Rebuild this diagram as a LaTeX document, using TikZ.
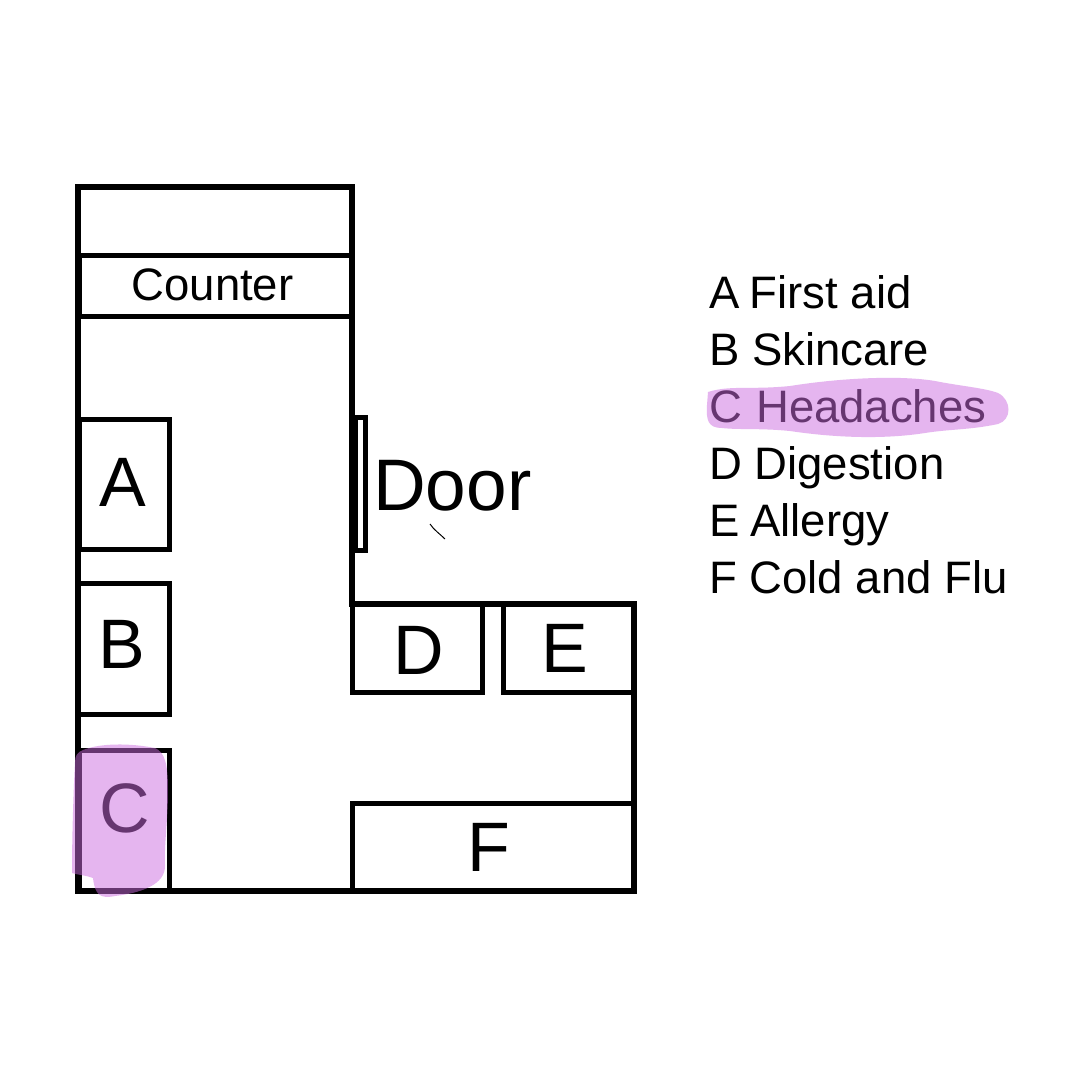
\documentclass[tikz,border=0pt]{standalone}
\usepackage{fontspec}
\setmainfont{Liberation Sans}
\definecolor{hl}{RGB}{204,108,224}
\tikzset{
  wall/.style={draw=black,line width=6pt,line join=miter},
  roombox/.style={draw=black,line width=5pt,inner sep=0pt,outer sep=0pt,text=black},
  big/.style={font=\fontsize{70}{70}\selectfont,inner sep=0pt,text=black},
  mid/.style={font=\fontsize{45.5}{46}\selectfont,inner sep=0pt,text=black},
  legend/.style={font=\fontsize{45.5}{46}\selectfont,anchor=base west,inner sep=0pt,text=black},
  marker/.style={fill=hl,fill opacity=.5,draw=none}
}
\begin{document}
\begin{tikzpicture}[x=1pt,y=-1pt]
\useasboundingbox (0,0) rectangle (1080,1080);
\fill[white] (0,0) rectangle (1080,1080);
\draw[wall] (78,187) -- (351.5,187) -- (351.5,604) -- (634,604) -- (634,891) -- (78,891) -- cycle;
\node[roombox,minimum width=272pt,minimum height=61pt] (counter) at (215,285.5) {};
\node[mid] (counterlabel) at (212.5,285) {Counter};
\node[roombox,minimum width=90pt,minimum height=130pt] (a) at (124,484.5) {};
\node[big] (alabel) at (123,482) {A};
\node[roombox,minimum width=91pt,minimum height=131pt] (b) at (124,649) {};
\node[big] (blabel) at (122,644) {B};
\node[roombox,minimum width=90pt,minimum height=140pt] (c) at (124,820.5) {};
\node[big] (clabel) at (124.5,808) {C};
\node[roombox,minimum width=130pt,minimum height=88pt] (d) at (417.5,648.5) {};
\node[big] (dlabel) at (418.5,650) {D};
\node[roombox,minimum width=130pt,minimum height=88pt] (e) at (568.5,648.5) {};
\node[big] (elabel) at (564.5,648.5) {E};
\node[roombox,minimum width=281pt,minimum height=87pt] (f) at (493,847) {};
\node[big] (flabel) at (488.5,847) {F};
\node[roombox,minimum width=10pt,minimum height=133pt] (door) at (360,484) {};
\node[font=\fontsize{73}{73}\selectfont,anchor=base west,inner sep=0pt] (doorlabel) at (373,510) {Door};
\coordinate (tickA) at (430,524);
\coordinate (tickB) at (445,539);
\draw[line width=1pt] (tickA) .. controls (434,530) and (440,534) .. (tickB);
\node[legend] (l1) at (709,308) {A\kern-2.5pt\ First aid};
\node[legend] (l2) at (709,365) {B Skincare};
\node[legend] (l3) at (709,422) {C\kern1.5pt\ Headaches};
\node[legend] (l4) at (709,479) {D Digestion};
\node[legend] (l5) at (709,536) {E\kern-2pt\ Allergy};
\node[legend] (l6) at (709,593) {F Cold and Flu};
\fill[marker] (83,750) .. controls (100,743) and (130,743) .. (155,748)
  .. controls (165,752) and (168,765) .. (168,790)
  .. controls (168,820) and (164,845) .. (165,865)
  .. controls (166,885) and (140,893) .. (115,896)
  .. controls (100,899) and (95,895) .. (93,878)
  .. controls (85,875) and (78,875) .. (72,873)
  .. controls (72,830) and (74,780) .. (75,762)
  .. controls (75,755) and (78,752) .. (83,750) -- cycle;
\fill[marker] (708,392) .. controls (730,385) and (750,390) .. (790,386)
  .. controls (840,378) and (900,375) .. (935,381)
  .. controls (960,386) and (985,388) .. (998,393)
  .. controls (1012,400) and (1012,420) .. (998,424)
  .. controls (970,430) and (950,429) .. (925,433)
  .. controls (880,440) and (830,437) .. (790,431)
  .. controls (760,428) and (740,430) .. (722,428)
  .. controls (708,428) and (706,420) .. (707,405) -- cycle;
\end{tikzpicture}
\end{document}
